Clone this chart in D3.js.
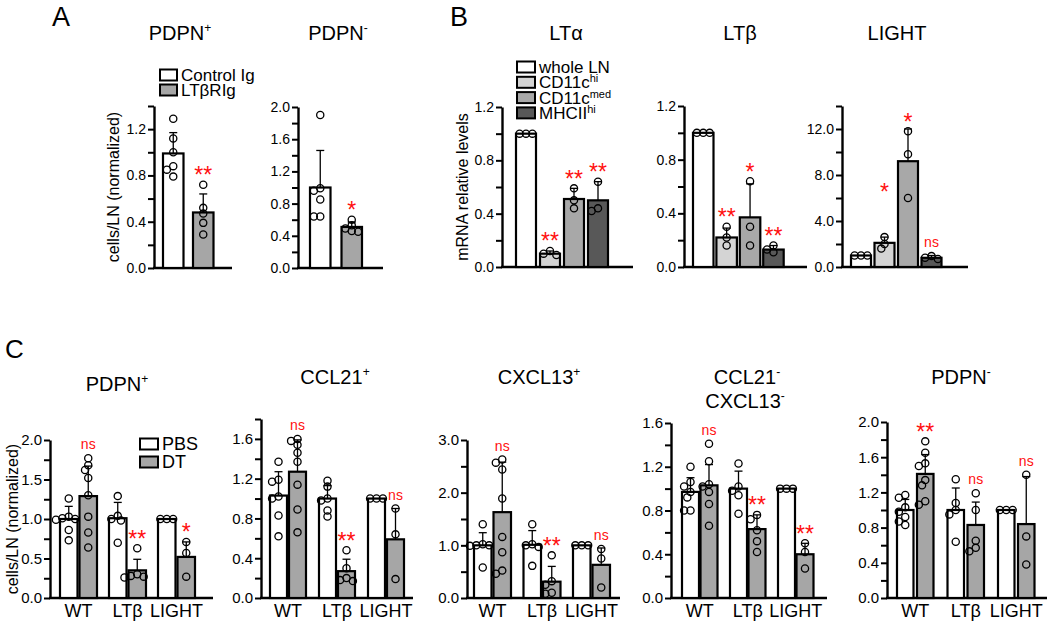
<!DOCTYPE html>
<html><head><meta charset="utf-8">
<script src="https://cdn.jsdelivr.net/npm/d3@7"></script>
<style>body{margin:0;background:#fff;} svg{display:block;}</style>
</head><body><svg id="chart" width="1050" height="624"></svg>
<script>
// ---------------- DATA ----------------
// Panel A
const aSeries = ["Control Ig", "LTβRIg"];
const aPosMean = [0.99, 0.48];
const aPosErr  = [0.18, 0.16];
const aPosPts  = [[1.29, 1.12, 1.0, 0.88, 0.85, 0.79], [0.72, 0.52, 0.47, 0.39, 0.29]];
const aPosSig  = ["", "**"];
const aNegMean = [1.0, 0.51];
const aNegErr  = [0.46, 0.06];
const aNegPts  = [[1.9, 0.99, 0.96, 0.85, 0.64, 0.64], [0.6, 0.53, 0.49, 0.46, 0.45]];
const aNegSig  = ["", "*"];

// Panel B
const bSeriesBase = ["whole LN", "CD11c", "CD11c", "MHCII"];
const bSeriesSup  = ["", "hi", "med", "hi"];
const bLTaMean = [1.0, 0.1, 0.51, 0.5];
const bLTaErr  = [0, 0.02, 0.08, 0.14];
const bLTaPts  = [[1, 1, 1], [0.12, 0.1, 0.09], [0.59, 0.5, 0.44], [0.64, 0.44, 0.42]];
const bLTaSig  = ["", "**", "**", "**"];
const bLTbMean = [1.0, 0.22, 0.37, 0.13];
const bLTbErr  = [0, 0.07, 0.25, 0.03];
const bLTbPts  = [[1, 1, 1], [0.3, 0.22, 0.16], [0.64, 0.3, 0.16], [0.16, 0.13, 0.11]];
const bLTbSig  = ["", "**", "*", "**"];
const bLightMean = [1.0, 2.1, 9.2, 0.8];
const bLightErr  = [0, 0.5, 2.8, 0.2];
const bLightPts  = [[1, 1, 1], [2.6, 2.0, 1.6], [11.8, 9.8, 6.0], [0.95, 0.8, 0.7]];
const bLightSig  = ["", "*", "*", "ns"];
const bLightSigAt = [null, 7.0, null, null];

// Panel C
const cGroups = ["WT", "LTβ", "LIGHT"];
const cSeries = ["PBS", "DT"];
const c1Mean = [[1.0, 1.29], [1.01, 0.35], [1.0, 0.52]];
const c1Err  = [[0.16, 0.38], [0.2, 0.14], [0, 0.19]];
const c1Pts  = [[[1.26, 1.03, 1.01, 1.0, 0.99, 0.86, 0.73], [1.77, 1.68, 1.62, 1.52, 1.3, 1.03, 0.83, 0.64]],
                [[1.29, 1.04, 1.0, 0.98, 0.7], [0.63, 0.3, 0.28, 0.27, 0.26]],
                [[1, 1, 1], [0.71, 0.57, 0.27]]];
const c1Sig  = [["", "ns"], ["", "**"], ["", "*"]];

const c2Mean = [[1.03, 1.27], [1.0, 0.27], [1.0, 0.59]];
const c2Err  = [[0.24, 0.32], [0.13, 0.12], [0, 0.31]];
const c2Pts  = [[[1.37, 1.19, 1.17, 1.02, 1.0, 0.83, 0.62], [1.6, 1.58, 1.54, 1.46, 1.37, 1.14, 0.89, 0.66]],
                [[1.18, 1.12, 1.0, 0.98, 0.88, 0.82], [0.48, 0.3, 0.2, 0.18, 0.17]],
                [[1, 1, 1], [0.9, 0.64, 0.19]]];
const c2Sig  = [["", "ns"], ["", "**"], ["", "ns"]];

const c3Mean = [[1.0, 1.63], [1.01, 0.31], [1.0, 0.63]];
const c3Err  = [[0.24, 0.95], [0.27, 0.29], [0, 0.32]];
const c3Pts  = [[[1.4, 1.02, 1.0, 1.0, 0.99, 0.58], [2.63, 2.57, 2.44, 1.89, 1.16, 0.87, 0.52, 0.46]],
                [[1.4, 1.02, 1.0, 0.97, 0.61], [0.81, 0.32, 0.25, 0.1, 0.08]],
                [[1, 1, 1], [0.93, 0.75, 0.2]]];
const c3Sig  = [["", "ns"], ["", "**"], ["", "ns"]];

const c4Mean = [[0.97, 1.03], [1.0, 0.63], [1.0, 0.4]];
const c4Err  = [[0.13, 0.19], [0.16, 0.13], [0, 0.1]];
const c4Pts  = [[[1.2, 1.06, 1.02, 0.97, 0.92, 0.8, 0.8], [1.41, 1.25, 1.04, 1.02, 0.97, 0.86, 0.66]],
                [[1.23, 1.02, 0.98, 0.94, 0.77], [0.76, 0.72, 0.62, 0.52, 0.42]],
                [[1, 1, 1], [0.5, 0.42, 0.27]]];
const c4Sig  = [["", "ns"], ["", "**"], ["", "**"]];

const c5Mean = [[1.0, 1.41], [1.0, 0.83], [1.0, 0.84]];
const c5Err  = [[0.12, 0.22], [0.25, 0.26], [0, 0.54]];
const c5Pts  = [[[1.17, 1.14, 1.03, 0.98, 0.92, 0.87, 0.83], [1.78, 1.65, 1.53, 1.5, 1.34, 1.28, 1.1, 1.06]],
                [[1.35, 1.08, 1.0, 0.95, 0.64], [1.19, 1.0, 0.65, 0.57, 0.53]],
                [[1, 1, 1], [1.4, 0.7, 0.38]]];
const c5Sig  = [["", "**"], ["", "ns"], ["", "ns"]];

// ---------------- DRAWING ----------------
const FONT = "'Liberation Sans', Arial, Helvetica, sans-serif";
const RED = "#ff1010";
const svg = d3.select("#chart").attr("font-family", FONT);

function band(domain, start, step, width) {
  const n = domain.length;
  if (n === 1) return d3.scaleBand().domain(domain).range([start, start + width]).padding(0);
  const p = 1 - width / step;
  return d3.scaleBand().domain(domain).range([start, start + step * (n - p)]).paddingInner(p).paddingOuter(0);
}

function swarm(vals, y, cx, r) {
  const placed = [];
  const unit = 3.2, thr = 5.6;
  const offs = [0, -1, 1, -2, 2, -3, 3, -4, 4];
  vals.forEach(v => {
    const py = y(v);
    let px = cx;
    for (const o of offs) {
      const tx = cx + o * unit;
      if (placed.every(p => Math.hypot(p[0] - tx, p[1] - py) >= thr)) { px = tx; break; }
    }
    placed.push([px, py]);
  });
  return placed;
}

function drawPanel(L, D) {
  const g = svg.append("g");
  const y = d3.scaleLinear().domain([0, L.max]).range([L.yBottom, L.yTop]);
  const nS = D.fills.length;
  const groupW = L.barStep * (nS - 1) + L.barW;
  const xg = band(D.groups, L.firstBar, L.groupStep || groupW + 10, groupW);
  const xs = band(d3.range(nS), 0, L.barStep, L.barW);

  // y axis
  const nT = Math.round(L.max / L.minor);
  const ticks = d3.range(0, nT + 1).map(i => +(i * L.minor).toFixed(4));
  const isMajor = v => Math.abs(v / L.major - Math.round(v / L.major)) < 1e-6;
  const axis = d3.axisLeft(y).tickValues(ticks)
    .tickFormat(v => isMajor(v) ? d3.format(".1f")(v) : "")
    .tickSize(6).tickSizeOuter(0).tickPadding(2);
  const ag = g.append("g").attr("transform", `translate(${L.x0},0)`).call(axis);
  ag.attr("font-family", FONT).attr("font-size", L.tickFont);
  ag.select(".domain").attr("stroke", "#000").attr("stroke-width", 2.4);
  ag.selectAll(".tick line").attr("stroke", "#000").attr("stroke-width", 2);
  ag.selectAll(".tick text").attr("fill", "#000");

  // x baseline
  g.append("line").attr("x1", L.x0 - 1).attr("x2", L.x1).attr("y1", y(0)).attr("y2", y(0))
    .attr("stroke", "#000").attr("stroke-width", 2.6);

  const r = 3.6;
  const topInfo = [];
  D.groups.forEach((grp, gi) => {
    for (let si = 0; si < nS; si++) {
      const m = D.means[gi][si], e = D.errs[gi][si], pts = D.pts[gi][si];
      const bx = xg(grp) + xs(si), cx = bx + L.barW / 2;
      g.append("rect").attr("x", bx).attr("y", y(m)).attr("width", L.barW).attr("height", y(0) - y(m))
        .attr("fill", D.fills[si]).attr("stroke", "#000").attr("stroke-width", 2.2);
      if (e > 0) {
        g.append("line").attr("x1", cx).attr("x2", cx).attr("y1", y(m)).attr("y2", y(m + e))
          .attr("stroke", "#000").attr("stroke-width", 1.3);
        g.append("line").attr("x1", cx - 4).attr("x2", cx + 4).attr("y1", y(m + e)).attr("y2", y(m + e))
          .attr("stroke", "#000").attr("stroke-width", 1.3);
      }
      const placed = swarm(pts, y, cx, r);
      g.selectAll(null).data(placed).enter().append("circle")
        .attr("cx", d => d[0]).attr("cy", d => d[1]).attr("r", r)
        .attr("fill", "none").attr("stroke", "#000").attr("stroke-width", 1.3);
      const topY = Math.min(y(m + e), d3.min(pts, p => y(p)) - r);
      const sig = D.sig[gi][si];
      if (sig) {
        const at = D.sigAt ? D.sigAt[gi][si] : null;
        if (sig === "ns") {
          const cy = at != null ? y(at) : topY - 9;
          g.append("text").attr("x", cx).attr("y", cy + 3.8).attr("text-anchor", "middle")
            .attr("font-size", 14).attr("fill", RED).text(sig);
        } else {
          const cy = at != null ? y(at) : topY - 11;
          g.append("text").attr("x", cx).attr("y", cy + 13).attr("text-anchor", "middle")
            .attr("font-size", 23).attr("fill", RED).text(sig);
        }
      }
    }
  });

  // group labels
  if (D.showGroupLabels) {
    D.groups.forEach(grp => {
      g.append("text").attr("x", xg(grp) + groupW / 2).attr("y", 617).attr("text-anchor", "middle")
        .attr("font-size", 18).attr("fill", "#000").text(grp);
    });
  }
}

function supText(x, yb, base, sup, size, supSize, anchor, dy) {
  const t = svg.append("text").attr("x", x).attr("y", yb).attr("text-anchor", anchor)
    .attr("font-size", size).attr("fill", "#000");
  t.append("tspan").text(base);
  if (sup) t.append("tspan").attr("font-size", supSize).attr("dy", -dy).text(sup);
  return t;
}

function legend(x, yc, step, labels, sups, fills, fs, bw, bh) {
  labels.forEach((lab, i) => {
    const cy = yc + i * step;
    svg.append("rect").attr("x", x).attr("y", cy - bh / 2).attr("width", bw).attr("height", bh)
      .attr("fill", fills[i]).attr("stroke", "#000").attr("stroke-width", 2);
    supText(x + bw + 4, cy + fs * 0.36, lab, sups ? sups[i] : "", fs, 11, "start", 6);
  });
}

function yLabel(x, y, text) {
  svg.append("text").attr("transform", `translate(${x},${y}) rotate(-90)`)
    .attr("text-anchor", "middle").attr("dominant-baseline", "central")
    .attr("font-size", 16).attr("fill", "#000").text(text);
}

const WHITE = "#ffffff", GRAY = "#a6a6a6";
const bFills = ["#ffffff", "#d4d4d4", "#a8a8a8", "#585858"];

// Panel A
drawPanel({x0: 154, x1: 232, yTop: 106, yBottom: 268, max: 1.4, major: 0.4, minor: 0.2, firstBar: 163, barStep: 30, barW: 20.5, tickFont: 14},
  {groups: [""], fills: [WHITE, GRAY], means: [aPosMean], errs: [aPosErr], pts: [aPosPts], sig: [aPosSig]});
drawPanel({x0: 298, x1: 383, yTop: 107, yBottom: 268, max: 2.0, major: 0.4, minor: 0.2, firstBar: 310, barStep: 31.5, barW: 20.5, tickFont: 14},
  {groups: [""], fills: [WHITE, GRAY], means: [aNegMean], errs: [aNegErr], pts: [aNegPts], sig: [aNegSig]});
// Panel B
drawPanel({x0: 502, x1: 633, yTop: 107, yBottom: 267, max: 1.2, major: 0.4, minor: 0.2, firstBar: 516, barStep: 24, barW: 20, tickFont: 14},
  {groups: [""], fills: bFills, means: [bLTaMean], errs: [bLTaErr], pts: [bLTaPts], sig: [bLTaSig]});
drawPanel({x0: 684, x1: 807, yTop: 106, yBottom: 267, max: 1.2, major: 0.4, minor: 0.2, firstBar: 693, barStep: 23.4, barW: 20.5, tickFont: 14},
  {groups: [""], fills: bFills, means: [bLTbMean], errs: [bLTbErr], pts: [bLTbPts], sig: [bLTbSig]});
drawPanel({x0: 842, x1: 968, yTop: 106, yBottom: 267, max: 14, major: 4, minor: 2, firstBar: 851, barStep: 23.5, barW: 20, tickFont: 14},
  {groups: [""], fills: bFills, means: [bLightMean], errs: [bLightErr], pts: [bLightPts], sig: [bLightSig], sigAt: [bLightSigAt]});
// Panel C
const cFills = [WHITE, GRAY];
drawPanel({x0: 50, x1: 213, yTop: 440, yBottom: 598, max: 2.0, major: 0.5, minor: 0.25, firstBar: 60, groupStep: 49, barStep: 19.5, barW: 17.5, tickFont: 15},
  {groups: cGroups, fills: cFills, means: c1Mean, errs: c1Err, pts: c1Pts, sig: c1Sig, showGroupLabels: true});
drawPanel({x0: 261, x1: 413, yTop: 419, yBottom: 598, max: 1.8, major: 0.4, minor: 0.2, firstBar: 270, groupStep: 49, barStep: 19, barW: 17, tickFont: 15},
  {groups: cGroups, fills: cFills, means: c2Mean, errs: c2Err, pts: c2Pts, sig: c2Sig, showGroupLabels: true});
drawPanel({x0: 467, x1: 620, yTop: 440, yBottom: 598, max: 3.0, major: 1, minor: 0.5, firstBar: 474, groupStep: 49.5, barStep: 19.5, barW: 17.5, tickFont: 15},
  {groups: cGroups, fills: cFills, means: c3Mean, errs: c3Err, pts: c3Pts, sig: c3Sig, showGroupLabels: true});
drawPanel({x0: 671, x1: 827, yTop: 423, yBottom: 598, max: 1.6, major: 0.4, minor: 0.2, firstBar: 682, groupStep: 48, barStep: 18.5, barW: 17, tickFont: 15},
  {groups: cGroups, fills: cFills, means: c4Mean, errs: c4Err, pts: c4Pts, sig: c4Sig, showGroupLabels: true});
drawPanel({x0: 887, x1: 1047, yTop: 422, yBottom: 598, max: 2.0, major: 0.4, minor: 0.2, firstBar: 897, groupStep: 50.5, barStep: 20, barW: 16.5, tickFont: 15},
  {groups: cGroups, fills: cFills, means: c5Mean, errs: c5Err, pts: c5Pts, sig: c5Sig, showGroupLabels: true});

// Legends
legend(160, 75, 15, aSeries, null, [WHITE, GRAY], 17, 17, 11);
legend(517, 67, 15.3, bSeriesBase, bSeriesSup, bFills, 17, 18, 11);
legend(140, 444, 18, cSeries, null, cFills, 18, 18, 11);

// Axis labels
yLabel(113, 187, "cells/LN (normalized)");
yLabel(462, 187, "mRNA relative levels");
yLabel(12, 519, "cells/LN (normalized)");

// Titles
supText(180, 40, "PDPN", "+", 20, 12, "middle", 8);
supText(338, 40, "PDPN", "-", 20, 12, "middle", 8);
supText(566, 40, "LTα", "", 20, 12, "middle", 8);
supText(740, 40, "LTβ", "", 20, 12, "middle", 8);
supText(897, 40, "LIGHT", "", 20, 12, "middle", 8);
supText(117, 391, "PDPN", "+", 20, 12, "middle", 8);
supText(335, 384, "CCL21", "+", 20, 12, "middle", 8);
supText(539, 384, "CXCL13", "+", 20, 12, "middle", 8);
supText(747, 384, "CCL21", "-", 20, 12, "middle", 8);
supText(745, 408, "CXCL13", "-", 20, 12, "middle", 8);
supText(961, 384, "PDPN", "-", 20, 12, "middle", 8);

// Panel letters
svg.append("text").attr("x", 52).attr("y", 26).attr("font-size", 27).text("A");
svg.append("text").attr("x", 450).attr("y", 26).attr("font-size", 27).text("B");
svg.append("text").attr("x", 5).attr("y", 358).attr("font-size", 26).text("C");
</script></body></html>
